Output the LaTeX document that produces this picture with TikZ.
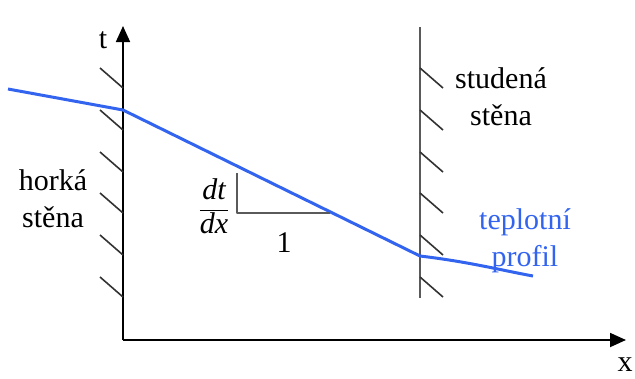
\documentclass[tikz,border=0pt]{standalone}
\usepackage{fontspec}
\setmainfont{Liberation Serif}
\usetikzlibrary{arrows.meta}
\definecolor{profil}{RGB}{50,100,240}
\definecolor{stena}{RGB}{90,90,90}
\tikzset{
  every picture/.style={line join=round},
  axis/.style={line width=1.8pt, -{Triangle[length=16pt,width=14pt]}},
  lbl/.style={font=\fontsize{30}{37}\selectfont, align=center, inner sep=0pt},
  hatch/.style={line width=1.6pt, black!80},
}

\begin{document}
\begin{tikzpicture}[x=1pt,y=-1pt]
\useasboundingbox (0,0) rectangle (635,378);
% axes
\coordinate (O) at (123,340);
\coordinate (ttop) at (123,26);
\coordinate (xend) at (626,340);
\draw[axis] (O) -- (ttop);
\draw[axis] (O) -- (xend);
\node[lbl] (t) at (103,40) {t};
\node[lbl] (x) at (625,365) {x};
% cold wall
\coordinate (rtop) at (420,27);
\coordinate (rbot) at (420,298);
\draw[line width=2.6pt, stena] (rtop) -- (rbot);
\foreach \y in {68,110,152,193,235,277}{
  \draw[hatch] (100,\y) -- (123,\y+20);
  \draw[hatch] (420,\y) -- (443,\y+20);
}
% temperature profile
\coordinate (p0) at (8,89);
\coordinate (p1) at (123,110);
\coordinate (p2) at (420,256);
\coordinate (p3) at (533,276);
\draw[line width=3pt, profil] (p0) -- (p1) -- (p2) .. controls (470,262) and (500,270) .. (p3);
% slope triangle
\coordinate (s0) at (237,173);
\coordinate (s1) at (237,213);
\coordinate (s2) at (330,213);
\draw[line width=1.8pt, stena] (s0) -- (s1) -- (s2);
\node[lbl] (frac) at (214,206) {$\displaystyle\frac{\textit{dt}}{\textit{dx}}$};
\node[lbl] (one) at (284,243) {1};
% labels
\node[lbl] (hot) at (53,199) {horká\\stěna};
\node[lbl] (cold) at (501,97) {studená\\stěna};
\node[lbl, text=profil] (prof) at (525,241) {teplotní\\profil};
\end{tikzpicture}
\end{document}
